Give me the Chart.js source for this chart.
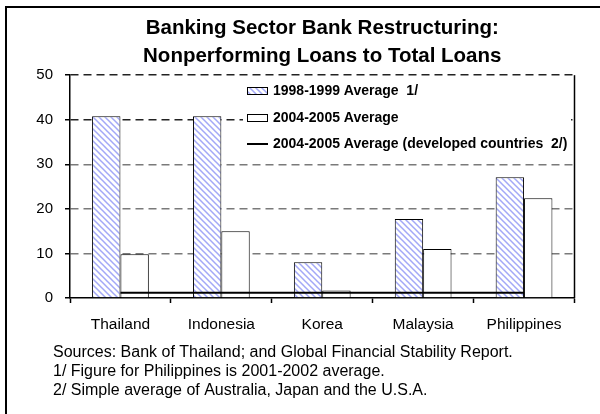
<!DOCTYPE html>
<html>
<head>
<meta charset="utf-8">
<script src="https://cdn.jsdelivr.net/npm/chart.js@4.4.0/dist/chart.umd.min.js"></script>
<style>
  html, body { margin: 0; padding: 0; background: #fff; }
</style>
</head>
<body>
<canvas id="npl-chart" width="600" height="414"></canvas>
<script>
// NPL ratios, percent of total loans
const countries = ['Thailand', 'Indonesia', 'Korea', 'Malaysia', 'Philippines'];
const avg1998 = [40.8, 40.8, 8.0, 17.7, 27.1];
const avg2004 = [9.8, 15.0, 1.7, 11.0, 22.4];
const developedAvg = [1.2, 1.2, 1.2, 1.2, 1.2];
const yTicks = [0, 10, 20, 30, 40, 50];

const seriesNames = [
  '1998-1999 Average  1/',
  '2004-2005 Average',
  '2004-2005 Average (developed countries  2/)'
];
const titleLines = ['Banking Sector Bank Restructuring:', 'Nonperforming Loans to Total Loans'];
const notes = [
  'Sources: Bank of Thailand; and Global Financial Stability Report.',
  '1/ Figure for Philippines is 2001-2002 average.',
  '2/ Simple average of Australia, Japan and the U.S.A.'
];

const FONT = '"Liberation Sans", Arial, sans-serif';
const canvas = document.getElementById('npl-chart');
const ctx = canvas.getContext('2d');

// diagonal hatch fill for the first series
function makeHatch() {
  const tile = document.createElement('canvas');
  tile.width = 6;
  tile.height = 6;
  const g = tile.getContext('2d');
  g.fillStyle = '#fff';
  g.fillRect(0, 0, 6, 6);
  g.strokeStyle = '#a3a8f7';
  g.lineWidth = 1.5;
  g.beginPath();
  g.moveTo(-1, -1); g.lineTo(7, 7);
  g.moveTo(-1, 5); g.lineTo(1, 7);
  g.moveTo(5, -1); g.lineTo(7, 1);
  g.stroke();
  return ctx.createPattern(tile, 'repeat');
}
const hatch = makeHatch();

// frame, plot border, legend box and footnotes
const decorations = {
  id: 'decorations',
  afterDraw(chart) {
    const c = chart.ctx;
    const a = chart.chartArea;
    c.save();
    c.strokeStyle = '#000';
    c.lineWidth = 2;
    c.beginPath();
    c.moveTo(6, 414); c.lineTo(6, 7); c.lineTo(600, 7);
    c.stroke();

    c.lineWidth = 1.5;
    c.beginPath();
    c.moveTo(a.right, a.top); c.lineTo(a.right, a.bottom);
    c.stroke();

    // legend
    c.fillStyle = '#fff';
    c.fillRect(243, 80, 328, 72);
    const lx = 247, tx = 273;
    const rows = [91, 118, 144];
    c.lineWidth = 1;
    c.fillStyle = hatch;
    c.fillRect(lx, rows[0] - 3.5, 21, 7);
    c.strokeRect(lx + 0.5, rows[0] - 3.5, 20, 7);
    c.fillStyle = '#fff';
    c.fillRect(lx, rows[1] - 3.5, 21, 7);
    c.strokeRect(lx + 0.5, rows[1] - 3.5, 20, 7);
    c.lineWidth = 2;
    c.beginPath();
    c.moveTo(lx, rows[2]); c.lineTo(lx + 21, rows[2]);
    c.stroke();
    c.fillStyle = '#000';
    c.font = 'bold 14px ' + FONT;
    c.textAlign = 'left';
    c.textBaseline = 'middle';
    seriesNames.forEach((t, i) => c.fillText(t, tx, rows[i]));

    c.font = '16px ' + FONT;
    c.textBaseline = 'alphabetic';
    notes.forEach((t, i) => c.fillText(t, 53, 357 + i * 19));
    c.restore();
  }
};

new Chart(ctx, {
  type: 'bar',
  data: {
    labels: countries,
    datasets: [
      {
        type: 'line',
        label: seriesNames[2],
        data: developedAvg,
        borderColor: '#000',
        borderWidth: 2,
        pointRadius: 0,
        fill: false,
        order: 0
      },
      {
        label: seriesNames[0],
        data: avg1998,
        backgroundColor: hatch,
        borderColor: '#000',
        borderWidth: 1,
        order: 1
      },
      {
        label: seriesNames[1],
        data: avg2004,
        backgroundColor: '#fff',
        borderColor: '#000',
        borderWidth: 1,
        order: 1
      }
    ]
  },
  options: {
    responsive: false,
    animation: false,
    devicePixelRatio: 1,
    categoryPercentage: 0.5625,
    barPercentage: 1,
    layout: { padding: { top: 14, right: 25.5, bottom: 76, left: 0 } },
    plugins: {
      legend: { display: false },
      tooltip: { enabled: false },
      title: {
        display: true,
        text: titleLines,
        fullSize: false,
        color: '#000',
        font: { family: FONT, size: 20.5, weight: 'bold', lineHeight: 1.37 },
        padding: { top: 0, bottom: 5 }
      }
    },
    scales: {
      x: {
        grid: {
          drawOnChartArea: false,
          offset: true,
          tickLength: 5,
          tickColor: '#000',
          tickWidth: 1.5
        },
        border: { color: '#000', width: 1.5 },
        ticks: { color: '#000', font: { family: FONT, size: 15.5 }, padding: 12 },
        afterFit(scale) { scale.height = 40; }
      },
      y: {
        min: 0,
        max: 50,
        afterBuildTicks(scale) {
          scale.ticks = yTicks.map(v => ({ value: v }));
        },
        ticks: { color: '#000', font: { family: FONT, size: 15 }, padding: 12 },
        grid: {
          color: c => c.tick.value === 0 ? 'rgba(0,0,0,0)' : (c.tick.value >= 40 ? '#222' : '#7a7a7a'),
          lineWidth: 1.5,
          tickLength: 5,
          tickColor: '#000',
          tickWidth: 1.5
        },
        border: { color: '#000', width: 1.5, dash: [8, 5] },
        afterFit(scale) { scale.width = 70; }
      }
    }
  },
  plugins: [decorations]
});
</script>
</body>
</html>
